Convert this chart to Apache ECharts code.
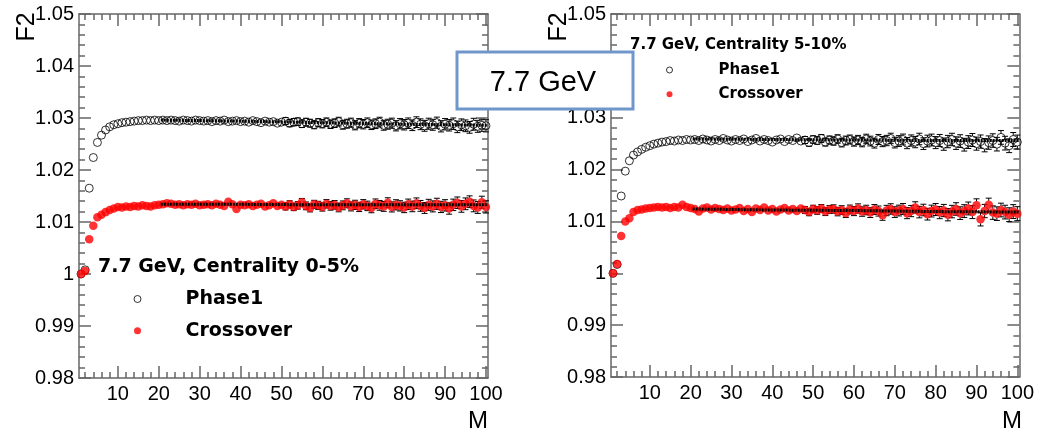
<!DOCTYPE html>
<html>
<head>
<meta charset="utf-8">
<script src="https://cdn.jsdelivr.net/npm/echarts@6/dist/echarts.min.js"></script>
<style>
html, body { margin: 0; padding: 0; background: #fff; }
#chart { width: 1037px; height: 436px; }
</style>
</head>
<body>
<div id="chart"></div>
<script>
// Multiplicity bins M = 1..100
const multiplicity = [
  1, 2, 3, 4, 5, 6, 7, 8, 9, 10, 11, 12, 13, 14, 15, 16, 17, 18, 19, 20,
  21, 22, 23, 24, 25, 26, 27, 28, 29, 30, 31, 32, 33, 34, 35, 36, 37, 38, 39, 40,
  41, 42, 43, 44, 45, 46, 47, 48, 49, 50, 51, 52, 53, 54, 55, 56, 57, 58, 59, 60,
  61, 62, 63, 64, 65, 66, 67, 68, 69, 70, 71, 72, 73, 74, 75, 76, 77, 78, 79, 80,
  81, 82, 83, 84, 85, 86, 87, 88, 89, 90, 91, 92, 93, 94, 95, 96, 97, 98, 99, 100
];

// Axis tick positions on M
const majorTicksM = [10, 20, 30, 40, 50, 60, 70, 80, 90, 100];
const minorTicksM = [
  2, 4, 6, 8, 12, 14, 16, 18, 22, 24, 26, 28, 32, 34, 36, 38, 42, 44, 46, 48,
  52, 54, 56, 58, 62, 64, 66, 68, 72, 74, 76, 78, 82, 84, 86, 88, 92, 94, 96, 98
];

// Centrality 0-5%
const phase1Central = [
  1.0000, 1.0008, 1.0165, 1.0224, 1.0253, 1.0267, 1.0277, 1.0283, 1.0287, 1.0289,
  1.0291, 1.0292, 1.0293, 1.0294, 1.0295, 1.0295, 1.0296, 1.0295, 1.0296, 1.0295,
  1.0296, 1.0295, 1.0296, 1.0295, 1.0294, 1.0296, 1.0295, 1.0294, 1.0296, 1.0295,
  1.0294, 1.0295, 1.0293, 1.0295, 1.0294, 1.0296, 1.0293, 1.0294, 1.0295, 1.0293,
  1.0294, 1.0292, 1.0295, 1.0293, 1.0291, 1.0294, 1.0292, 1.0293, 1.0290, 1.0292,
  1.0294, 1.0290, 1.0292, 1.0293, 1.0289, 1.0292, 1.0290, 1.0287, 1.0291, 1.0289,
  1.0292, 1.0288, 1.0290, 1.0293, 1.0287, 1.0289, 1.0291, 1.0286, 1.0290, 1.0288,
  1.0291, 1.0287, 1.0289, 1.0292, 1.0286, 1.0288, 1.0290, 1.0285, 1.0289, 1.0287,
  1.0290, 1.0286, 1.0292, 1.0288, 1.0285, 1.0289, 1.0287, 1.0291, 1.0284, 1.0288,
  1.0286, 1.0289, 1.0283, 1.0287, 1.0285, 1.0282, 1.0288, 1.0284, 1.0286, 1.0285
];
const crossoverCentral = [
  1.0000, 1.0006, 1.0067, 1.0093, 1.0109, 1.0114, 1.0119, 1.0123, 1.0126, 1.0129,
  1.0128, 1.0130, 1.0129, 1.0131, 1.0130, 1.0132, 1.0131, 1.0130, 1.0132, 1.0133,
  1.0134, 1.0136, 1.0135, 1.0133, 1.0134, 1.0132, 1.0134, 1.0133, 1.0135, 1.0132,
  1.0133, 1.0134, 1.0132, 1.0135, 1.0133, 1.0131, 1.0139, 1.0134, 1.0125, 1.0133,
  1.0132, 1.0134, 1.0131, 1.0133, 1.0135, 1.0130, 1.0132, 1.0136, 1.0131, 1.0133,
  1.0130, 1.0134, 1.0129, 1.0132, 1.0138, 1.0131, 1.0127, 1.0134, 1.0132, 1.0129,
  1.0135, 1.0131, 1.0133, 1.0128, 1.0132, 1.0136, 1.0130, 1.0133, 1.0129, 1.0134,
  1.0131, 1.0127, 1.0135, 1.0132, 1.0130, 1.0137, 1.0129, 1.0133, 1.0131, 1.0128,
  1.0134, 1.0130, 1.0136, 1.0131, 1.0127, 1.0133, 1.0130, 1.0135, 1.0129, 1.0132,
  1.0126, 1.0133, 1.0137, 1.0130, 1.0135, 1.0139, 1.0131, 1.0128, 1.0138, 1.0129
];
const errorCentral = [
  0.00002, 0.00003, 0.00004, 0.00005, 0.00006, 0.00007, 0.00008, 0.00009, 0.00010, 0.00011,
  0.00012, 0.00013, 0.00014, 0.00015, 0.00016, 0.00017, 0.00018, 0.00019, 0.00020, 0.00022,
  0.00023, 0.00025, 0.00026, 0.00028, 0.00029, 0.00031, 0.00032, 0.00034, 0.00035, 0.00037,
  0.00038, 0.00040, 0.00041, 0.00043, 0.00044, 0.00046, 0.00047, 0.00049, 0.00050, 0.00052,
  0.00053, 0.00055, 0.00056, 0.00058, 0.00059, 0.00061, 0.00062, 0.00064, 0.00065, 0.00067,
  0.00068, 0.00069, 0.00071, 0.00072, 0.00073, 0.00075, 0.00076, 0.00077, 0.00078, 0.00080,
  0.00081, 0.00082, 0.00083, 0.00084, 0.00085, 0.00086, 0.00087, 0.00088, 0.00089, 0.00090,
  0.00091, 0.00092, 0.00093, 0.00094, 0.00095, 0.00096, 0.00097, 0.00098, 0.00099, 0.00100,
  0.00101, 0.00102, 0.00103, 0.00104, 0.00105, 0.00106, 0.00106, 0.00107, 0.00108, 0.00109,
  0.00110, 0.00110, 0.00111, 0.00112, 0.00113, 0.00113, 0.00114, 0.00115, 0.00116, 0.00117
];

// Centrality 5-10%
const phase1Peripheral = [
  1.0000, 1.0017, 1.0149, 1.0197, 1.0217, 1.0228, 1.0234, 1.0239, 1.0243, 1.0246,
  1.0249, 1.0251, 1.0253, 1.0254, 1.0256, 1.0255, 1.0257, 1.0256, 1.0258, 1.0257,
  1.0258, 1.0256, 1.0259, 1.0257, 1.0255, 1.0258, 1.0256, 1.0260, 1.0257, 1.0255,
  1.0258, 1.0256, 1.0259, 1.0254, 1.0257, 1.0260, 1.0255, 1.0258, 1.0256, 1.0253,
  1.0257, 1.0259, 1.0254, 1.0258, 1.0256, 1.0261, 1.0255, 1.0257, 1.0252, 1.0258,
  1.0256, 1.0260, 1.0253, 1.0257, 1.0255, 1.0259, 1.0252, 1.0256, 1.0258, 1.0254,
  1.0257, 1.0253, 1.0259, 1.0255, 1.0251, 1.0258, 1.0254, 1.0256, 1.0260, 1.0252,
  1.0255, 1.0258, 1.0251, 1.0256, 1.0253, 1.0259, 1.0250, 1.0255, 1.0257, 1.0252,
  1.0256, 1.0249, 1.0254, 1.0258, 1.0251, 1.0255, 1.0248, 1.0253, 1.0257, 1.0250,
  1.0254, 1.0247, 1.0252, 1.0256, 1.0249, 1.0262, 1.0251, 1.0246, 1.0258, 1.0253
];
const crossoverPeripheral = [
  1.0000, 1.0018, 1.0072, 1.0100, 1.0106, 1.0118, 1.0122, 1.0123, 1.0125, 1.0126,
  1.0127, 1.0128, 1.0127, 1.0128, 1.0126, 1.0128, 1.0127, 1.0132, 1.0128, 1.0126,
  1.0124, 1.0119, 1.0125, 1.0127, 1.0123, 1.0126, 1.0124, 1.0122, 1.0125, 1.0121,
  1.0123, 1.0126, 1.0120, 1.0124, 1.0118, 1.0125, 1.0122, 1.0127, 1.0121, 1.0124,
  1.0119, 1.0123, 1.0126, 1.0121, 1.0124, 1.0120, 1.0125, 1.0122, 1.0118, 1.0124,
  1.0121, 1.0125, 1.0119, 1.0123, 1.0124, 1.0119, 1.0122, 1.0116, 1.0123, 1.0120,
  1.0125, 1.0119, 1.0122, 1.0117, 1.0123, 1.0120, 1.0112, 1.0121, 1.0124, 1.0118,
  1.0121, 1.0124, 1.0116, 1.0120, 1.0127, 1.0118, 1.0122, 1.0114, 1.0120, 1.0123,
  1.0117, 1.0121, 1.0113, 1.0119, 1.0124, 1.0116, 1.0120, 1.0125, 1.0118, 1.0131,
  1.0104, 1.0120, 1.0132, 1.0117, 1.0115, 1.0122, 1.0118, 1.0113, 1.0119, 1.0115
];
const errorPeripheral = [
  0.00002, 0.00003, 0.00004, 0.00005, 0.00006, 0.00007, 0.00008, 0.00009, 0.00010, 0.00011,
  0.00012, 0.00013, 0.00014, 0.00016, 0.00017, 0.00018, 0.00019, 0.00021, 0.00022, 0.00024,
  0.00025, 0.00027, 0.00028, 0.00030, 0.00031, 0.00033, 0.00034, 0.00036, 0.00037, 0.00039,
  0.00040, 0.00042, 0.00044, 0.00045, 0.00047, 0.00048, 0.00050, 0.00052, 0.00053, 0.00055,
  0.00057, 0.00058, 0.00060, 0.00062, 0.00063, 0.00065, 0.00067, 0.00068, 0.00070, 0.00072,
  0.00073, 0.00075, 0.00077, 0.00078, 0.00080, 0.00082, 0.00083, 0.00085, 0.00086, 0.00088,
  0.00089, 0.00091, 0.00092, 0.00094, 0.00095, 0.00097, 0.00098, 0.00100, 0.00101, 0.00103,
  0.00104, 0.00105, 0.00107, 0.00108, 0.00109, 0.00111, 0.00112, 0.00113, 0.00114, 0.00116,
  0.00117, 0.00118, 0.00119, 0.00120, 0.00121, 0.00122, 0.00123, 0.00124, 0.00125, 0.00126,
  0.00127, 0.00128, 0.00129, 0.00130, 0.00131, 0.00132, 0.00132, 0.00133, 0.00134, 0.00135
];

// Mean level drawn above M = 20
const meanM = [20.5, 40, 60, 80, 100.5];
const meanPhase1Central = [1.0296, 1.0294, 1.0291, 1.0288, 1.0286];
const meanCrossoverCentral = [1.0134, 1.0134, 1.0133, 1.0133, 1.0133];
const meanPhase1Peripheral = [1.0259, 1.0258, 1.0257, 1.0256, 1.0256];
const meanCrossoverPeripheral = [1.0124, 1.0122, 1.0121, 1.0119, 1.0118];

const AXIS_COLOR = '#666';
const LABEL_FONT = '"Liberation Sans", Arial, Helvetica, sans-serif';
const BOLD_FONT = '"DejaVu Sans", sans-serif';
const MARKER_R = 4;

const axisLineStyle = { color: AXIS_COLOR, width: 1.5 };
const tickLineStyle = { color: AXIS_COLOR, width: 1.5 };

function xAxesFor(gridIndex) {
  const base = { gridIndex, type: 'value', min: 0.5, max: 100.5, splitLine: { show: false } };
  return [
    Object.assign({}, base, {
      position: 'bottom',
      axisLine: { show: true, onZero: false, lineStyle: axisLineStyle },
      axisTick: { show: true, inside: true, length: 12, customValues: majorTicksM, lineStyle: tickLineStyle },
      axisLabel: { show: true, customValues: majorTicksM, fontSize: 20, margin: 6, color: '#000', fontFamily: LABEL_FONT }
    }),
    Object.assign({}, base, {
      position: 'bottom',
      axisLine: { show: false, onZero: false },
      axisTick: { show: true, inside: true, length: 6, customValues: minorTicksM, lineStyle: tickLineStyle },
      axisLabel: { show: false }
    }),
    Object.assign({}, base, {
      position: 'top',
      axisLine: { show: true, onZero: false, lineStyle: axisLineStyle },
      axisTick: { show: true, inside: true, length: 12, customValues: majorTicksM, lineStyle: tickLineStyle },
      axisLabel: { show: false }
    }),
    Object.assign({}, base, {
      position: 'top',
      axisLine: { show: false, onZero: false },
      axisTick: { show: true, inside: true, length: 6, customValues: minorTicksM, lineStyle: tickLineStyle },
      axisLabel: { show: false }
    })
  ];
}

function yAxesFor(gridIndex) {
  const base = {
    gridIndex, type: 'value', min: 0.98, max: 1.05, interval: 0.01,
    splitLine: { show: false },
    axisLine: { show: true, onZero: false, lineStyle: axisLineStyle },
    axisTick: { show: true, inside: true, length: 12, lineStyle: tickLineStyle },
    minorTick: { show: true, splitNumber: 5, length: 6, lineStyle: tickLineStyle }
  };
  return [
    Object.assign({}, base, {
      position: 'left',
      axisLabel: {
        show: true, fontSize: 20, margin: 5, color: '#000', fontFamily: LABEL_FONT,
        formatter: v => String(Number(v.toFixed(2)))
      }
    }),
    Object.assign({}, base, { position: 'right', axisLabel: { show: false } })
  ];
}

// Vertical error bars drawn outside the marker, with end caps
function renderErrorBar(params, api) {
  const m = api.value(0), f = api.value(1), e = api.value(2);
  const c = api.coord([m, f]);
  const top = api.coord([m, f + e])[1];
  const bot = api.coord([m, f - e])[1];
  const style = { stroke: '#000', lineWidth: 1 };
  if (c[1] - top < MARKER_R - 0.5) return { type: 'group', children: [] };
  const cap = 3;
  return {
    type: 'group',
    children: [
      { type: 'line', shape: { x1: c[0], y1: top, x2: c[0], y2: c[1] - MARKER_R }, style },
      { type: 'line', shape: { x1: c[0], y1: c[1] + MARKER_R, x2: c[0], y2: bot }, style },
      { type: 'line', shape: { x1: c[0] - cap, y1: top, x2: c[0] + cap, y2: top }, style },
      { type: 'line', shape: { x1: c[0] - cap, y1: bot, x2: c[0] + cap, y2: bot }, style }
    ]
  };
}

const openCircle = { color: 'rgba(255,255,255,0)', borderColor: '#000', borderWidth: 1 };
const redDot = { color: '#ff0000', borderWidth: 0 };

function panelSeries(panel, phase1, crossover, err, meanPhase1, meanCrossover) {
  const xi = panel * 4, yi = panel * 2;
  const pts = vals => multiplicity.map((m, i) => [m, vals[i]]);
  const errPts = vals => multiplicity.map((m, i) => [m, vals[i], err[i]]);
  const meanPts = vals => meanM.map((m, i) => [m, vals[i]]);
  return [
    { type: 'custom', name: 'Phase1 error', xAxisIndex: xi, yAxisIndex: yi, renderItem: renderErrorBar,
      data: errPts(phase1), encode: { x: 0, y: 1 }, z: 2, silent: true },
    { type: 'scatter', name: 'Phase1', xAxisIndex: xi, yAxisIndex: yi, symbol: 'circle',
      symbolSize: 2 * MARKER_R, itemStyle: openCircle, data: pts(phase1), z: 3 },
    { type: 'custom', name: 'Crossover error', xAxisIndex: xi, yAxisIndex: yi, renderItem: renderErrorBar,
      data: errPts(crossover), encode: { x: 0, y: 1 }, z: 2, silent: true },
    { type: 'scatter', name: 'Crossover', xAxisIndex: xi, yAxisIndex: yi, symbol: 'circle',
      symbolSize: 2 * MARKER_R + 0.5, itemStyle: redDot, data: pts(crossover), z: 3 },
    { type: 'line', name: 'Phase1 mean', xAxisIndex: xi, yAxisIndex: yi, symbol: 'none', silent: true,
      lineStyle: { color: '#000', width: 3, type: [2, 1] }, data: meanPts(meanPhase1), z: 5 },
    { type: 'line', name: 'Crossover mean', xAxisIndex: xi, yAxisIndex: yi, symbol: 'none', silent: true,
      lineStyle: { color: '#000', width: 3, type: [2, 1] }, data: meanPts(meanCrossover), z: 5 }
  ];
}

// Legend: marker centred at (iconX, firstY), text starting at textX
function legendFor(iconX, firstY, textX, fontSize, iconSize, rowStep) {
  const lineH = fontSize + 1;
  return {
    left: iconX - iconSize / 2, top: firstY - lineH / 2, orient: 'vertical', padding: 0,
    itemGap: rowStep - lineH, itemWidth: iconSize, itemHeight: iconSize, selectedMode: false,
    textStyle: {
      fontFamily: BOLD_FONT, fontWeight: 'bold', fontSize, lineHeight: lineH, color: '#000',
      padding: [0, 0, 0, textX - (iconX + iconSize / 2 + 5)]
    },
    data: [
      { name: 'Phase1', icon: 'circle', itemStyle: { color: 'rgba(255,255,255,0)', borderColor: '#000', borderWidth: 1 } },
      { name: 'Crossover', icon: 'circle', itemStyle: { color: '#ff0000', borderWidth: 0 } }
    ]
  };
}

const BOX_Z = 100;
const chart = echarts.init(document.getElementById('chart'), null, { renderer: 'canvas' });
chart.setOption({
  animation: false,
  backgroundColor: '#fff',
  grid: [
    { left: 79, top: 14, width: 409, height: 364 },
    { left: 611, top: 14, width: 411, height: 363 }
  ],
  xAxis: xAxesFor(0).concat(xAxesFor(1)),
  yAxis: yAxesFor(0).concat(yAxesFor(1)),
  legend: [
    legendFor(137, 299, 185, 19, 7, 31.7),
    legendFor(669, 70, 718, 15, 6, 24.3)
  ],
  series: panelSeries(0, phase1Central, crossoverCentral, errorCentral, meanPhase1Central, meanCrossoverCentral)
    .concat(panelSeries(1, phase1Peripheral, crossoverPeripheral, errorPeripheral, meanPhase1Peripheral, meanCrossoverPeripheral)),
  graphic: [
    { type: 'text', x: 98, y: 267, z: 50,
      style: { text: '7.7 GeV, Centrality 0-5%', font: 'bold 19px ' + BOLD_FONT, fill: '#000', textVerticalAlign: 'middle' } },
    { type: 'text', x: 630, y: 45, z: 50,
      style: { text: '7.7 GeV, Centrality 5-10%', font: 'bold 15px ' + BOLD_FONT, fill: '#000', textVerticalAlign: 'middle' } },
    { type: 'text', x: 27, y: 27, rotation: Math.PI / 2, z: 50,
      style: { text: 'F2', font: '25px ' + LABEL_FONT, fill: '#000', textAlign: 'center', textVerticalAlign: 'middle' } },
    { type: 'text', x: 559, y: 27, rotation: Math.PI / 2, z: 50,
      style: { text: 'F2', font: '25px ' + LABEL_FONT, fill: '#000', textAlign: 'center', textVerticalAlign: 'middle' } },
    { type: 'text', x: 488, y: 421, z: 50,
      style: { text: 'M', font: '24px ' + LABEL_FONT, fill: '#000', textAlign: 'right', textVerticalAlign: 'middle' } },
    { type: 'text', x: 1022, y: 421, z: 50,
      style: { text: 'M', font: '24px ' + LABEL_FONT, fill: '#000', textAlign: 'right', textVerticalAlign: 'middle' } },
    { type: 'rect', z: BOX_Z, shape: { x: 457, y: 52, width: 176, height: 57 },
      style: { fill: '#fff', stroke: '#7097c9', lineWidth: 3 } },
    { type: 'text', z: BOX_Z + 1, x: 543, y: 83,
      style: { text: '7.7 GeV', font: '29px ' + LABEL_FONT, fill: '#000', textAlign: 'center', textVerticalAlign: 'middle' } }
  ]
});
</script>
</body>
</html>
